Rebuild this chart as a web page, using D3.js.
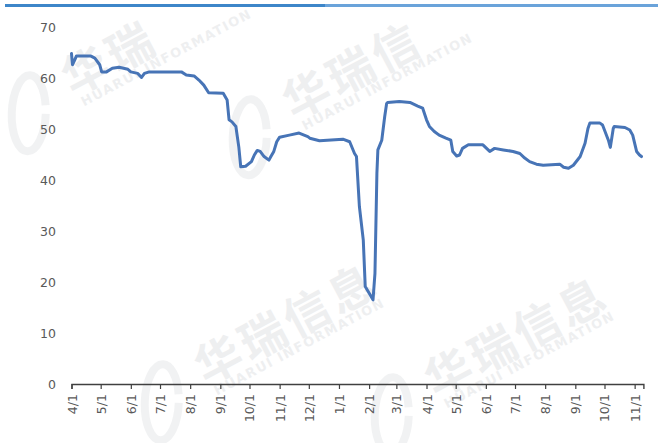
<!DOCTYPE html>
<html>
<head>
<meta charset="utf-8">
<script src="https://cdn.jsdelivr.net/npm/d3@7"></script>
<style>
  html, body { margin: 0; padding: 0; background: #fff; }
  svg { display: block; }
</style>
</head>
<body>
<svg id="chart" width="658" height="443"></svg>
<script>
// Daily price series (sampled at turning points)
const dates = [
  "2020-04-01","2020-04-02","2020-04-04","2020-04-06","2020-04-21","2020-04-25","2020-04-30",
  "2020-05-02","2020-05-07","2020-05-13","2020-05-20","2020-05-29","2020-06-01","2020-06-08",
  "2020-06-12","2020-06-15","2020-06-20","2020-07-23","2020-07-28","2020-08-05","2020-08-10",
  "2020-08-15","2020-08-20","2020-09-04","2020-09-08","2020-09-10","2020-09-13","2020-09-17",
  "2020-09-20","2020-09-22","2020-09-27","2020-10-03","2020-10-06","2020-10-09","2020-10-12",
  "2020-10-16","2020-10-21","2020-10-23","2020-10-26","2020-10-29","2020-11-01","2020-11-11",
  "2020-11-21","2020-11-30","2020-12-02","2020-12-12","2021-01-05","2021-01-12","2021-01-17",
  "2021-01-19","2021-01-22","2021-01-26","2021-01-28","2021-02-02","2021-02-05","2021-02-07",
  "2021-02-09","2021-02-10","2021-02-14","2021-02-17","2021-02-19","2021-02-20","2021-03-04",
  "2021-03-15","2021-03-23","2021-03-28","2021-04-01","2021-04-04","2021-04-09","2021-04-14",
  "2021-04-21","2021-04-26","2021-04-28","2021-05-02","2021-05-05","2021-05-08","2021-05-14",
  "2021-05-29","2021-06-05","2021-06-10","2021-06-19","2021-06-29","2021-07-06","2021-07-11",
  "2021-07-16","2021-07-23","2021-07-30","2021-08-16","2021-08-20","2021-08-25","2021-08-30",
  "2021-09-06","2021-09-11","2021-09-14","2021-09-16","2021-09-26","2021-09-29","2021-10-05",
  "2021-10-07","2021-10-10","2021-10-11","2021-10-22","2021-10-27","2021-10-30","2021-11-03",
  "2021-11-06","2021-11-08"
];
const values = [
  64.8,62.6,63.4,64.3,64.3,63.9,62.6,
  61.2,61.2,61.9,62.1,61.7,61.2,60.9,
  60.1,60.9,61.2,61.2,60.6,60.4,59.6,
  58.6,57.1,57.0,55.7,51.8,51.4,50.5,
  46.5,42.6,42.7,43.6,44.9,45.8,45.6,
  44.6,43.9,44.6,45.6,47.5,48.4,48.8,
  49.2,48.5,48.2,47.7,48.0,47.5,45.2,
  44.6,34.8,28.2,19.1,17.5,16.5,21.7,
  41.3,45.9,47.8,52.4,55.0,55.2,55.4,
  55.2,54.5,54.1,51.8,50.5,49.5,48.8,
  48.2,47.8,45.6,44.7,44.9,46.2,46.9,
  46.9,45.6,46.2,45.9,45.6,45.2,44.3,
  43.6,43.1,42.9,43.1,42.5,42.3,42.9,
  44.6,47.2,50.1,51.2,51.2,50.8,47.8,
  46.4,50.1,50.5,50.3,49.8,48.8,45.6,
  44.9,44.6
];

// Axis ticks
const xTicks = [
  "2020-04-01","2020-05-01","2020-06-01","2020-07-01","2020-08-01","2020-09-01","2020-10-01",
  "2020-11-01","2020-12-01","2021-01-01","2021-02-01","2021-03-01","2021-04-01","2021-05-01",
  "2021-06-01","2021-07-01","2021-08-01","2021-09-01","2021-10-01","2021-11-01"
];
const yTicks = [0, 10, 20, 30, 40, 50, 60, 70];

// Watermark tiles: centre of the first glyph and the glyphs shown
const marks = [
  { cx: 84, cy: 68, text: "华瑞" },
  { cx: 305, cy: 92, text: "华瑞信" },
  { cx: 217, cy: 357, text: "华瑞信息" },
  { cx: 447, cy: 370, text: "华瑞信息" }
];

const parse = d3.utcParse("%Y-%m-%d");
const fmt = d3.utcFormat("%-m/%-d");
const data = dates.map((d, i) => ({ date: parse(d), value: values[i] }));

const svg = d3.select("#chart");

// top accent bar
svg.append("rect").attr("x", 5).attr("y", 4).attr("width", 320).attr("height", 3).attr("fill", "#3d86c9");
svg.append("rect").attr("x", 325).attr("y", 4).attr("width", 333).attr("height", 3).attr("fill", "#6aa3da");

// watermark layer
const wmColor = "#9ea3ad";
const wm = svg.append("g").attr("pointer-events", "none");
marks.forEach(m => {
  const g = wm.append("g").attr("transform", `translate(${m.cx},${m.cy}) rotate(-28)`);
  g.append("ellipse")
    .attr("cx", -70).attr("cy", 14).attr("rx", 17).attr("ry", 38)
    .attr("transform", "rotate(30,-70,14)")
    .attr("fill", "none").attr("stroke", wmColor).attr("stroke-width", 8)
    .attr("stroke-dasharray", "170 60")
    .attr("opacity", 0.14);
  g.append("text")
    .attr("x", -23).attr("y", 0)
    .attr("dominant-baseline", "central")
    .attr("font-family", "Noto Sans CJK SC")
    .attr("font-weight", 700)
    .attr("font-size", 46)
    .attr("letter-spacing", 4)
    .attr("fill", wmColor).attr("opacity", 0.17)
    .text(m.text);
  g.append("text")
    .attr("x", -18).attr("y", 34)
    .attr("font-family", "DejaVu Sans")
    .attr("font-weight", 700)
    .attr("font-size", 13)
    .attr("letter-spacing", 1.5)
    .attr("fill", wmColor).attr("opacity", 0.17)
    .text("HUARUI INFORMATION");
});

const x = d3.scaleUtc()
  .domain([parse("2020-04-01"), parse("2021-11-10")])
  .range([71.5, 643.4]);
const y = d3.scaleLinear().domain([0, 70]).range([384, 27]);

// y axis: labels only
const yAxis = svg.append("g")
  .attr("transform", "translate(56,0)")
  .call(d3.axisLeft(y).tickValues(yTicks).tickSize(0).tickPadding(0));
yAxis.select(".domain").remove();
yAxis.selectAll("text")
  .attr("font-family", "DejaVu Sans").attr("font-size", 12.5).attr("fill", "#595959");

// x axis
const xAxis = svg.append("g")
  .attr("transform", `translate(0,${y(0)})`)
  .call(d3.axisBottom(x).tickValues(xTicks.map(parse)).tickFormat(fmt).tickSizeOuter(0).tickSize(5));
xAxis.select(".domain").attr("stroke", "#404040").attr("stroke-width", 1.4);
xAxis.selectAll(".tick line").attr("stroke", "#404040").attr("stroke-width", 1.2);
xAxis.selectAll("text")
  .attr("font-family", "DejaVu Sans").attr("font-size", 12.5).attr("fill", "#595959")
  .attr("transform", "rotate(-90)")
  .attr("text-anchor", "end")
  .attr("dominant-baseline", "central")
  .attr("x", -10).attr("y", 0).attr("dy", null);

// series line
const line = d3.line()
  .x(d => x(d.date))
  .y(d => y(d.value));

svg.append("path")
  .datum(data)
  .attr("fill", "none")
  .attr("stroke", "#4774b6")
  .attr("stroke-width", 3)
  .attr("stroke-linejoin", "round")
  .attr("stroke-linecap", "round")
  .attr("d", line);
</script>
</body>
</html>
